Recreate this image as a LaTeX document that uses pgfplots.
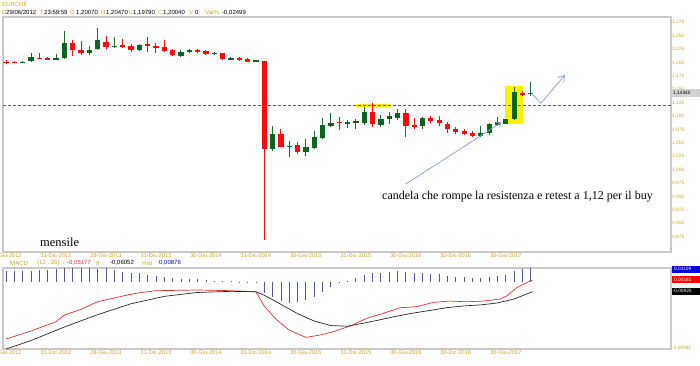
\documentclass[border=0pt]{standalone}
\usepackage{pgfplots}
\pgfplotsset{compat=1.18}
\usepackage{pgfplotstable}
\usepackage{fontspec}
\setmainfont{Liberation Sans}
\newfontfamily\seriffont{Liberation Serif}
\usetikzlibrary{arrows.meta}
\definecolor{gold}{RGB}{205,165,45}
\definecolor{candred}{RGB}{250,10,10}
\definecolor{candgreen}{RGB}{12,100,30}
\definecolor{framegray}{RGB}{200,200,200}
\definecolor{arrowblue}{RGB}{135,160,200}
\definecolor{histblue}{RGB}{85,85,150}
\definecolor{macdred}{RGB}{215,50,50}

\pgfplotstableread{
i o h l c
2 1.2006 1.2025 1.2003 1.2010
3 1.2035 1.2190 1.2020 1.2100
6 1.2062 1.2160 1.2050 1.2085
7 1.2084 1.2590 1.2070 1.2364
10 1.2180 1.2313 1.2150 1.2239
11 1.2257 1.2655 1.2230 1.2420
13 1.2300 1.2480 1.2270 1.2316
16 1.2239 1.2350 1.2220 1.2332
21 1.2133 1.2230 1.2110 1.2208
22 1.2215 1.2260 1.2190 1.2228
25 1.2170 1.2200 1.2150 1.2180
27 1.2065 1.2110 1.2055 1.2075
30 1.2030 1.2060 1.2010 1.2040
32 1.0385 1.0820 1.0350 1.0672
34 1.0435 1.0540 1.0237 1.0454
36 1.0330 1.0570 1.0260 1.0423
37 1.0405 1.0728 1.0390 1.0612
38 1.0595 1.0964 1.0570 1.0840
39 1.0821 1.1057 1.0796 1.0883
41 1.0880 1.0940 1.0780 1.0886
42 1.0886 1.0960 1.0770 1.0900
43 1.0883 1.1170 1.0840 1.1088
45 1.0840 1.1026 1.0810 1.0945
46 1.0951 1.1090 1.0858 1.1007
47 1.0964 1.1132 1.0940 1.1069
50 1.0827 1.0990 1.0760 1.0976
57 1.0634 1.0827 1.0620 1.0684
58 1.0684 1.0870 1.0660 1.0852
59 1.0846 1.0983 1.0830 1.0896
60 1.0864 1.0950 1.0850 1.0946
61 1.0946 1.1554 1.0940 1.1460
63 1.1420 1.1650 1.1380 1.1434
}\upcandles

\pgfplotstableread{
i o h l c
0 1.2007 1.2047 1.1979 1.2004
1 1.2012 1.2030 1.2002 1.2008
4 1.2097 1.2175 1.2065 1.2075
5 1.2080 1.2110 1.2060 1.2072
8 1.2364 1.2425 1.2127 1.2239
9 1.2230 1.2415 1.2150 1.2180
12 1.2397 1.2500 1.2257 1.2295
14 1.2316 1.2440 1.2280 1.2308
15 1.2313 1.2350 1.2200 1.2239
17 1.2340 1.2487 1.2207 1.2330
18 1.2319 1.2360 1.2177 1.2270
19 1.2290 1.2425 1.2200 1.2220
20 1.2239 1.2260 1.2130 1.2146
23 1.2230 1.2260 1.2190 1.2222
24 1.2226 1.2240 1.2150 1.2164
26 1.2177 1.2190 1.2060 1.2071
28 1.2075 1.2110 1.2030 1.2068
29 1.2071 1.2090 1.2010 1.2021
31 1.2034 1.2040 0.8690 1.0390
33 1.0666 1.0770 1.0420 1.0435
35 1.0466 1.0520 1.0290 1.0330
40 1.0895 1.0995 1.0746 1.0885
44 1.1088 1.1244 1.0796 1.0858
48 1.1069 1.1132 1.0610 1.0827
49 1.0840 1.0964 1.0760 1.0810
51 1.0976 1.1000 1.0870 1.0920
52 1.0933 1.1000 1.0830 1.0871
53 1.0858 1.0900 1.0696 1.0770
54 1.0759 1.0810 1.0670 1.0703
55 1.0728 1.0760 1.0650 1.0672
56 1.0696 1.0720 1.0620 1.0640
62 1.1440 1.1470 1.1380 1.1410
}\downcandles

\pgfplotstableread{
i v
0 -0.0781
3 -0.0680
6 -0.0564
7 -0.0480
9 -0.0408
11 -0.0313
14 -0.0241
16 -0.0199
18 -0.0174
21 -0.0169
23 -0.0165
27 -0.0174
30 -0.0187
31 -0.0367
32.5 -0.0542
34 -0.0668
36 -0.0760
37.7 -0.0731
39.3 -0.0689
41.3 -0.0618
43.3 -0.0521
45.3 -0.0458
47.3 -0.0388
49.3 -0.0375
51.3 -0.0320
53.3 -0.0304
55.3 -0.0313
57.3 -0.0304
59.3 -0.0279
60.1 -0.0241
61.3 -0.0137
62.5 -0.0074
63.2 -0.0040
}\macdline

\pgfplotstableread{
i v
0 -0.0907
3 -0.0800
7 -0.0630
11 -0.0475
15 -0.0338
19 -0.0245
23 -0.0196
27 -0.0182
30 -0.0187
31 -0.0230
33 -0.0345
35 -0.0462
37 -0.0555
39 -0.0612
41 -0.0620
43 -0.0580
45 -0.0537
47 -0.0492
49 -0.0453
51 -0.0420
53 -0.0386
55 -0.0365
57 -0.0352
59 -0.0328
61 -0.0278
63.2 -0.0187
}\signalline

\pgfplotstableread{
i v
0 0.0091
1 0.0091
2 0.0091
3 0.0091
4 0.0096
5 0.0096
6 0.0101
7 0.0109
8 0.0110
9 0.0109
10 0.0109
11 0.0104
12 0.0109
13 0.0096
14 0.0083
15 0.0075
16 0.0069
17 0.0056
18 0.0048
19 0.0037
20 0.0029
21 0.0024
22 0.0021
23 0.0021
24 0.0016
25 0.0011
26 0.0008
27 0.0005
28 0.0004
29 0.0004
30 0.0004
31 -0.0085
32 -0.0123
33 -0.0152
34 -0.0165
35 -0.0157
36 -0.0144
37 -0.0123
38 -0.0077
39 -0.0037
40 -0.0011
41 0.0008
42 0.0032
43 0.0059
44 0.0072
45 0.0072
46 0.0077
47 0.0085
48 0.0077
49 0.0072
50 0.0072
51 0.0067
52 0.0064
53 0.0051
54 0.0040
55 0.0040
56 0.0032
57 0.0032
58 0.0040
59 0.0051
60 0.0059
61 0.0085
62 0.0104
63 0.0112
}\histdata

\pgfplotsset{
  chartbase/.style={
    scale only axis, width=668pt,
    xmin=-0.36, xmax=79.83,
    axis line style={draw=framegray, line width=1.1pt},
    major tick length=0pt,
    xtick={0,6,12,18,24,30,36,42,48,54,60},
    xticklabels={29-Giu-2012,31-Dic-2012,28-Giu-2013,31-Dic-2013,30-Giu-2014,31-Dic-2014,30-Giu-2015,31-Dic-2015,30-Giu-2016,30-Dic-2016,30-Giu-2017},
    xticklabel style={font=\fontsize{5.6}{6}\selectfont, text=gold, inner sep=1pt},
    /pgf/number format/assume math mode=true,
  }
}

\begin{document}
\begin{tikzpicture}[x=1pt,y=1pt]
\path[use as bounding box] (0,0) rectangle (700,-365);

% main price chart
\begin{axis}[chartbase,
  at={(3pt,-17pt)}, anchor=north west, height=235pt,
  ymin=0.847, ymax=1.2854,
  ytick={0.875,0.9,0.925,0.95,0.975,1,1.025,1.05,1.075,1.1,1.125,1.15,1.175,1.2,1.225,1.25,1.275},
  yticklabel pos=right,
  yticklabel style={font=\fontsize{4.8}{5}\selectfont, text=gold, anchor=west, inner sep=1pt,
    /pgf/number format/.cd, fixed, fixed zerofill, precision=3, use comma},
]
\fill[yellow] (axis cs:59.95,1.0858) rectangle (axis cs:62.05,1.1573);
\fill[yellow!90!orange] (axis cs:42.0,1.1170) rectangle (axis cs:46.2,1.1237);
\addplot[black!65, line width=0.6pt, dash pattern=on 3pt off 2pt] coordinates {(-0.36,1.12) (79.83,1.12)};
% wicks
\addplot[draw=none, mark=none, error bars/.cd, y dir=both, y explicit, error mark=none,
  error bar style={draw=candgreen!80!gray, line width=0.9pt}]
  table[x=i, y expr={(\thisrow{h}+\thisrow{l})/2}, y error expr={(\thisrow{h}-\thisrow{l})/2}] {\upcandles};
\addplot[draw=none, mark=none, error bars/.cd, y dir=both, y explicit, error mark=none,
  error bar style={draw=candred, line width=0.9pt}]
  table[x=i, y expr={(\thisrow{h}+\thisrow{l})/2}, y error expr={(\thisrow{h}-\thisrow{l})/2}] {\downcandles};
% bodies
\addplot[draw=none, mark=none, error bars/.cd, y dir=both, y explicit, error mark=none,
  error bar style={draw=candgreen, line width=5.3pt}]
  table[x=i, y expr={(\thisrow{o}+\thisrow{c})/2}, y error expr={max(abs(\thisrow{c}-\thisrow{o})/2,0.0012)}] {\upcandles};
\addplot[draw=none, mark=none, error bars/.cd, y dir=both, y explicit, error mark=none,
  error bar style={draw=candred, line width=5.3pt}]
  table[x=i, y expr={(\thisrow{o}+\thisrow{c})/2}, y error expr={max(abs(\thisrow{c}-\thisrow{o})/2,0.0012)}] {\downcandles};
% annotation arrows
\draw[arrowblue, line width=0.7pt, -{Straight Barb[length=4pt,width=6pt]}] (axis cs:48.0,0.9739) -- (axis cs:59.5,1.0890);
\draw[arrowblue, line width=0.7pt, -{Straight Barb[length=6pt,width=8pt]}] (axis cs:63.1,1.1431) -- (axis cs:64.2,1.1244) -- (axis cs:67.1,1.1772);
\end{axis}

% MACD panel
\begin{axis}[chartbase,
  at={(3pt,-268pt)}, anchor=north west, height=81pt,
  ymin=-0.09062, ymax=0.01109, ytick=\empty,
]
\addplot[macdred, line width=0.7pt] table[x=i, y=v] {\macdline};
\addplot[black!85, line width=0.7pt] table[x=i, y=v] {\signalline};
\end{axis}
\begin{axis}[
  at={(3pt,-268pt)}, anchor=north west, height=81pt, width=668pt, scale only axis,
  xmin=-0.36, xmax=79.83, ymin=-0.0536, ymax=0.0112,
  axis lines=none, ticks=none,
]
\addplot[ycomb, histblue, line width=0.8pt, mark=none] table[x=i, y=v] {\histdata};
\end{axis}

% header texts
\node[anchor=west, inner sep=0pt, text=gold, font=\fontsize{6}{6}\selectfont] at (2,-4) {EURCHF};
\begin{scope}[every node/.style={anchor=west, inner sep=0pt, font=\fontsize{6}{6}\selectfont}]
\node[text=gold] at (2,-12.5) {D};
\node at (6,-12.5) {29/06/2012};
\node[text=gold] at (40,-12.5) {T};
\node at (44,-12.5) {23:59:59};
\node[text=gold] at (70,-12.5) {O};
\node at (76,-12.5) {1,20070};
\node[text=gold] at (101,-12.5) {H};
\node at (106,-12.5) {1,20470};
\node[text=gold] at (129,-12.5) {L};
\node at (133,-12.5) {1,19790};
\node[text=gold] at (158,-12.5) {C};
\node at (163,-12.5) {1,20040};
\node[text=gold] at (189,-12.5) {V};
\node at (195,-12.5) {0};
\node[text=gold] at (205,-12.5) {Var\%};
\node at (222,-12.5) {-0,02499};
% MACD header
\node[text=gold] at (10,-263) {MACD};
\node[text=gold] at (37,-263) {(12 , 26)\ \ :};
\node[text=macdred] at (67,-263) {-0,05177};
\node[text=gold] at (96,-263) {9\ \ :};
\node at (110,-263) {-0,06052};
\node[text=gold] at (142,-263) {Hist};
\node[text=blue!70!black] at (159,-263) {0,00876};
\end{scope}

% right side value boxes
\fill[black!18] (671.5,-89.3) rectangle (700,-96.7);
\node[anchor=west, inner sep=0pt, font=\fontsize{4.8}{5}\selectfont] at (673,-93) {1,14340};
\fill[blue!90!black] (671.5,-266) rectangle (700,-272.5);
\node[anchor=west, inner sep=0pt, text=white, font=\fontsize{4.8}{5}\selectfont] at (674,-269.2) {0,01109};
\fill[red] (671.5,-276.2) rectangle (700,-283.3);
\node[anchor=west, inner sep=0pt, text=white, font=\fontsize{4.8}{5}\selectfont] at (674,-279.7) {0,00181};
\fill[black] (671.5,-287.8) rectangle (700,-295);
\node[anchor=west, inner sep=0pt, text=white, font=\fontsize{4.8}{5}\selectfont] at (672.5,-291.4) {-0,00920};
\node[anchor=west, inner sep=0pt, text=gold, font=\fontsize{4.8}{5}\selectfont] at (672,-348) {-0,09062};

% annotations text
\node[anchor=west, inner sep=0pt, font=\seriffont\fontsize{12}{12}\selectfont] at (382,-196.5) {candela che rompe la resistenza e retest a 1,12 per il buy};
\node[anchor=west, inner sep=0pt, font=\seriffont\fontsize{12.5}{12}\selectfont] at (40,-242) {mensile};
\end{tikzpicture}
\end{document}
